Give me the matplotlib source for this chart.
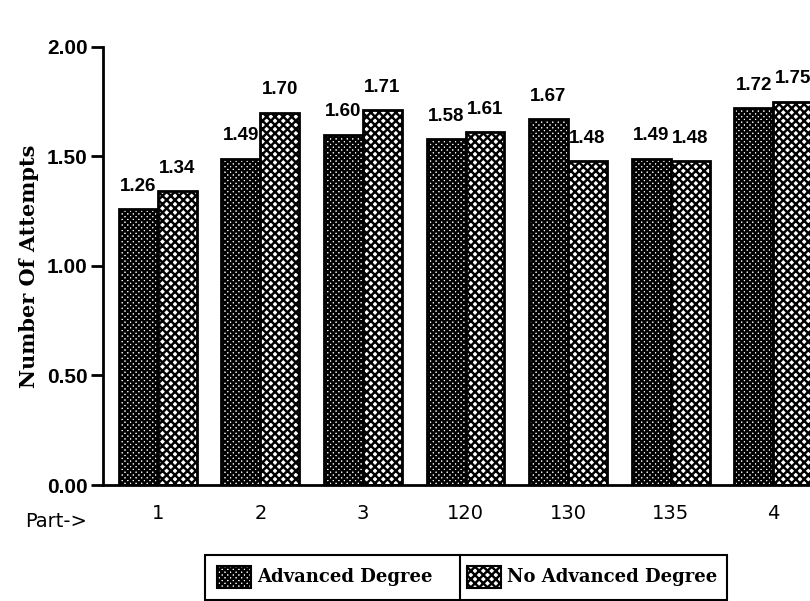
import matplotlib
matplotlib.use("Agg")
import matplotlib.pyplot as plt
from matplotlib.patches import Rectangle
import numpy as np

# attempts per part, split by degree
parts = ["1", "2", "3", "120", "130", "135", "4"]
advanced = [1.26, 1.49, 1.60, 1.58, 1.67, 1.49, 1.72]
no_advanced = [1.34, 1.70, 1.71, 1.61, 1.48, 1.48, 1.75]
series_names = ["Advanced Degree", "No Advanced Degree"]
yticks = [0.0, 0.5, 1.0, 1.5, 2.0]

plt.rcParams["hatch.linewidth"] = 1.75

fig = plt.figure(figsize=(8.1, 6.01), dpi=100)
ax = fig.add_axes([0.127, 0.193, 0.873, 0.729])

x = np.arange(len(parts))
w = 0.38
hatches = ["x" * 6, "x" * 4]

for i, vals in enumerate([advanced, no_advanced]):
    pos = x - w / 2 + i * w
    ax.bar(pos, vals, w, color="white", edgecolor="black", hatch=hatches[i], linewidth=2)
    for px, v in zip(pos, vals):
        ax.text(px, v + 0.065, "%.2f" % v, ha="center", va="bottom",
                family="Liberation Sans", fontweight="bold", fontsize=13.5)

ax.set_xlim(-0.537, 6.36)
ax.set_ylim(0, 2.0)
ax.set_yticks(yticks)
ax.set_yticklabels(["%.2f" % t for t in yticks], fontsize=15, fontweight="bold",
                   family="Liberation Sans")
ax.set_xticks(x)
ax.set_xticklabels(parts, fontsize=14)
ax.tick_params(axis="y", length=9, width=2, direction="out", pad=2)
ax.tick_params(axis="x", length=0, pad=14)
for s in ["top", "right"]:
    ax.spines[s].set_visible(False)
for s in ["left", "bottom"]:
    ax.spines[s].set_linewidth(2)

ax.set_ylabel("Number Of Attempts", family="DejaVu Serif", fontweight="bold",
              fontsize=15, labelpad=6)
fig.text(0.031, 0.133, "Part->", fontsize=14, va="center")

# legend box under the chart
bx0, by0, bw, bh = 205 / 810, 1 - 600 / 601, 522 / 810, 45 / 601
fig.patches.append(Rectangle((bx0, by0), bw, bh, transform=fig.transFigure,
                             fill=False, edgecolor="black", linewidth=1.5))
div = 460 / 810
fig.lines.append(plt.Line2D([div, div], [by0, by0 + bh], transform=fig.transFigure,
                            color="black", linewidth=1.5))
swatch_x = [217 / 810, 467 / 810]
for i, name in enumerate(series_names):
    fig.patches.append(Rectangle((swatch_x[i], by0 + 12 / 601), 34 / 810, 22 / 601,
                                 transform=fig.transFigure, facecolor="white",
                                 edgecolor="black", hatch=hatches[i], linewidth=1.5))
    fig.text(swatch_x[i] + 40 / 810, by0 + bh / 2, name, family="DejaVu Serif",
             fontweight="bold", fontsize=13, va="center")

fig.savefig("out.png", dpi=100)
